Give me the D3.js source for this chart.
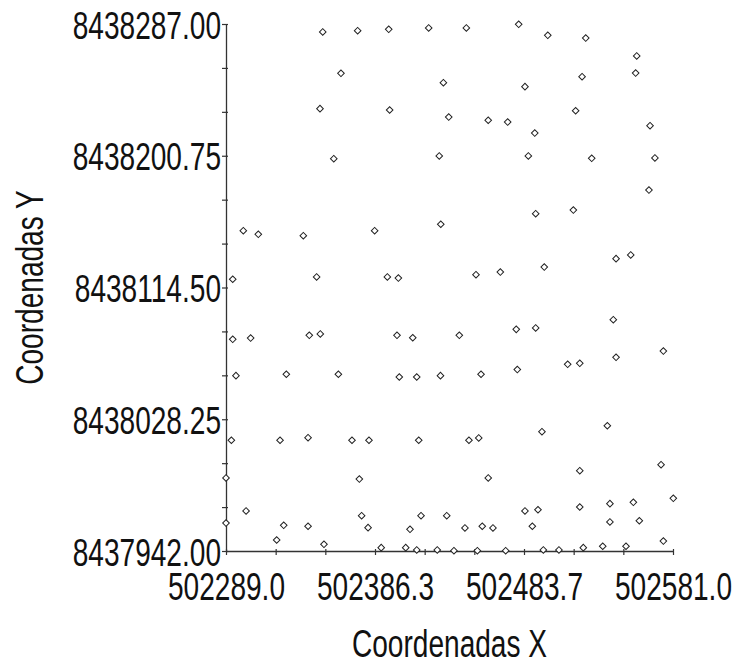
<!DOCTYPE html>
<html>
<head>
<meta charset="utf-8">
<script src="https://cdn.jsdelivr.net/npm/d3@7"></script>
<style>
  html, body { margin: 0; padding: 0; background: #fff; }
  svg { display: block; }
  .lbl { font-family: 'Liberation Sans', Arial, sans-serif; fill: #111; }
</style>
</head>
<body>
<script>
// ---- data ----
const xValues = [
  502352.2, 502375.0, 502395.3, 502421.4, 502364.1, 502431.0, 502350.4, 502395.9, 502434.5, 502359.4,
  502428.3, 502446.0, 502480.2, 502499.2, 502524.0, 502557.3, 502556.6, 502521.6, 502484.3, 502460.3,
  502473.0, 502490.7, 502517.4, 502566.0, 502486.5, 502527.9, 502569.2, 502565.3, 502300.3, 502310.1,
  502339.5, 502386.1, 502429.3, 502293.4, 502348.2, 502394.4, 502401.6, 502293.4, 502305.1, 502343.4,
  502350.6, 502400.7, 502411.0, 502491.3, 502515.9, 502543.8, 502553.4, 502452.3, 502468.2, 502496.9,
  502441.4, 502478.6, 502491.3, 502542.0, 502574.7, 502543.8, 502512.2, 502520.1, 502479.3, 502295.5,
  502328.4, 502362.4, 502402.2, 502413.6, 502429.1, 502455.6, 502292.5, 502324.3, 502342.6, 502371.3,
  502382.4, 502414.9, 502447.7, 502454.1, 502495.4, 502538.1, 502289.0, 502376.1, 502460.3, 502520.1,
  502573.2, 502302.1, 502289.0, 502326.7, 502342.6, 502377.6, 502381.8, 502416.4, 502433.2, 502409.2,
  502322.1, 502353.0, 502390.4, 502406.4, 502413.6, 502427.0, 502445.1, 502456.4, 502463.4, 502484.3,
  502492.8, 502489.1, 502520.1, 502539.8, 502555.1, 502581.2, 502539.8, 502559.0, 502574.7, 502437.9,
  502453.2, 502471.7, 502496.3, 502506.5, 502522.4, 502535.1, 502550.3
];
const yValues = [
  8438281.8, 8438282.6, 8438283.5, 8438284.4, 8438254.7, 8438248.6, 8438231.6, 8438230.7, 8438226.1, 8438198.8,
  8438200.6, 8438284.4, 8438286.8, 8438279.6, 8438277.8, 8438266.1, 8438254.9, 8438252.5, 8438246.0, 8438224.0,
  8438222.8, 8438215.6, 8438230.2, 8438220.4, 8438200.6, 8438199.1, 8438199.3, 8438178.3, 8438151.7, 8438149.3,
  8438148.4, 8438151.7, 8438155.9, 8438119.9, 8438121.4, 8438121.4, 8438120.7, 8438080.6, 8438081.4, 8438083.2,
  8438084.1, 8438083.2, 8438081.6, 8438162.8, 8438165.2, 8438133.4, 8438135.8, 8438122.9, 8438124.6, 8438127.9,
  8438083.2, 8438087.1, 8438088.0, 8438093.4, 8438072.9, 8438068.8, 8438064.2, 8438064.9, 8438060.8, 8438056.8,
  8438057.7, 8438057.7, 8438055.9, 8438055.9, 8438056.8, 8438057.7, 8438014.5, 8438014.5, 8438016.2, 8438014.5,
  8438014.5, 8438014.5, 8438014.5, 8438016.0, 8438020.1, 8438024.0, 8437989.8, 8437989.1, 8437989.8, 8437994.6,
  8437998.5, 8437968.2, 8437960.3, 8437958.8, 8437958.2, 8437965.1, 8437957.3, 8437965.1, 8437965.1, 8437956.2,
  8437949.2, 8437946.4, 8437944.2, 8437944.2, 8437942.7, 8437942.7, 8437957.1, 8437958.2, 8437957.1, 8437968.2,
  8437969.0, 8437958.2, 8437970.8, 8437973.0, 8437973.9, 8437976.5, 8437961.0, 8437961.8, 8437948.5, 8437942.2,
  8437942.2, 8437942.2, 8437942.7, 8437942.7, 8437944.2, 8437945.1, 8437945.1
];
const xDomain = [502289.0, 502581.0];
const yDomain = [8437942.0, 8438287.0];
const xTickLabels = ["502289.0", "502386.3", "502483.7", "502581.0"];
const yTickLabels = ["8437942.00", "8438028.25", "8438114.50", "8438200.75", "8438287.00"];
const xTitle = "Coordenadas X";
const yTitle = "Coordenadas Y";

// ---- layout ----
const W = 738, H = 670;
const mLeft = 226, mRight = 673, mTop = 24, mBottom = 551;
const FS = 39, CONDENSE = 0.72;

const svg = d3.select("body").append("svg").attr("width", W).attr("height", H);

const x = d3.scaleLinear().domain(xDomain).range([mLeft, mRight]);
const y = d3.scaleLinear().domain(yDomain).range([mBottom, mTop]);

const nMinorX = (xTickLabels.length - 1) * 3;
const xTicks = d3.range(nMinorX + 1).map(i => xDomain[0] + i * (xDomain[1] - xDomain[0]) / nMinorX);
const nMinorY = (yTickLabels.length - 1) * 3;
const yTicks = d3.range(nMinorY + 1).map(i => yDomain[0] + i * (yDomain[1] - yDomain[0]) / nMinorY);

const xAxis = d3.axisBottom(x).tickValues(xTicks).tickSizeInner(4).tickSizeOuter(0)
  .tickFormat((d, i) => i % 3 === 0 ? xTickLabels[i / 3] : "");
const yAxis = d3.axisLeft(y).tickValues(yTicks).tickSizeInner(4).tickSizeOuter(0)
  .tickFormat((d, i) => i % 3 === 0 ? yTickLabels[i / 3] : "");

const gx = svg.append("g").attr("transform", `translate(0,${mBottom})`).call(xAxis);
const gy = svg.append("g").attr("transform", `translate(${mLeft},0)`).call(yAxis);

[gx, gy].forEach(g => {
  g.select(".domain").attr("stroke", "#333").attr("stroke-width", 1.3);
  g.selectAll(".tick line").attr("stroke", "#333").attr("stroke-width", 1.2);
  g.selectAll(".tick text").attr("class", "lbl").attr("font-size", FS).attr("fill", "#111");
});
gx.selectAll(".tick line").attr("y1", -2);
gy.selectAll(".tick line").attr("x1", 2);
// narrow typeface look: horizontal condensation via scale transform
gx.selectAll(".tick text").attr("x", 0).attr("y", 49).attr("dy", 0)
  .attr("transform", `scale(${CONDENSE},1)`);
gy.selectAll(".tick text").attr("x", -5 / CONDENSE).attr("dy", "0.36em")
  .attr("transform", `scale(${CONDENSE},1)`);

// points
svg.append("g").selectAll("path").data(xValues.map((v, i) => [v, yValues[i]]))
  .join("path")
  .attr("d", d3.symbol(d3.symbolSquare, 22)())
  .attr("transform", d => `translate(${x(d[0])},${y(d[1])}) rotate(45)`)
  .attr("fill", "#fff").attr("stroke", "#222").attr("stroke-width", 1);

// titles
svg.append("text").attr("class", "lbl").attr("font-size", FS)
  .attr("transform", `translate(${(mLeft + mRight) / 2},657) scale(${CONDENSE},1)`)
  .attr("text-anchor", "middle").text(xTitle);
svg.append("text").attr("class", "lbl").attr("font-size", FS)
  .attr("transform", `translate(43,${(mTop + mBottom) / 2}) rotate(-90) scale(${CONDENSE},1)`)
  .attr("text-anchor", "middle").text(yTitle);
</script>
</body>
</html>
